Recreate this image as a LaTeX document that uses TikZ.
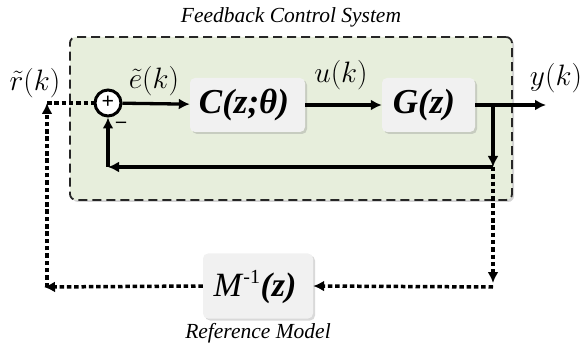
\RequirePackage{fix-cm}
\documentclass[tikz,border=0pt]{standalone}
\usepackage{fontspec}
\setmainfont{Liberation Serif}
\usetikzlibrary{arrows.meta,shadows}
\definecolor{fcsgreen}{HTML}{E7EEDC}
\definecolor{boxgray}{HTML}{F1F1F1}
\tikzset{
  fcsframe/.style={draw=black!85, line width=1.8pt, dash pattern=on 9pt off 5pt, rounded corners=6pt, fill=fcsgreen,
    drop shadow={shadow xshift=2pt, shadow yshift=-2pt, opacity=0.35, fill=black!50}},
  blockbox/.style={fill=boxgray, rounded corners=5pt, inner sep=0pt,
    drop shadow={shadow xshift=2pt, shadow yshift=-2pt, opacity=0.3, fill=black!50}},
  blockfont/.style={font=\fontsize{35}{38}\selectfont\bfseries\itshape},
  sumnode/.style={circle, draw=black, line width=3pt, fill=white, minimum size=26pt, inner sep=0pt},
  arr/.style={line width=3.3pt, -{Latex[length=11pt,width=11pt]}},
  darr/.style={line width=3.5pt, dash pattern=on 4.5pt off 2.8pt, -{Latex[length=11pt,width=11pt]}},
  dline/.style={line width=3.5pt, dash pattern=on 4.5pt off 2.8pt},
  siglabel/.style={font=\fontsize{29.5}{34}\selectfont, inner sep=0pt},
  caption/.style={font=\fontsize{21.5}{24}\selectfont\itshape}
}
\begin{document}
\begin{tikzpicture}[x=1pt,y=-1pt]
\useasboundingbox (0,0) rectangle (587,350);
% container
\node[fcsframe, minimum width=442pt, minimum height=163pt] (fcs) at (291,118.5) {};
\node[caption] (title) at (291,17) {Feedback Control System};
% blocks
\node[blockbox, minimum width=115pt, minimum height=54pt] (C) at (247.5,105) {};
\node[blockbox, minimum width=93pt, minimum height=54pt] (G) at (428.5,105) {};
\node[blockbox, minimum width=110pt, minimum height=65pt] (M) at (258,286) {};
\node[blockfont] (Ct) at (244,105) {C(z;θ)};
\node[blockfont] (Gt) at (424,105) {G(z)};
\node[font=\fontsize{34}{38}\selectfont] (Mt) at (255,287)
  {\textit{M}\textsuperscript{\fontsize{20}{20}\selectfont -1}\textbf{\textit{(z)}}};
\node[caption] (refm) at (258,333) {Reference Model};
% signal labels
\node[siglabel] (rl) at (35,83) {$\tilde{r}(k)$};
\node[siglabel] (el) at (154,81) {$\tilde{e}(k)$};
\node[siglabel] (ul) at (341,75) {$u(k)$};
\node[siglabel] (yl) at (556,78) {$y(k)$};
% summing junction
\node[sumnode] (sum) at (108,103) {};
\node[font=\fontsize{22}{22}\selectfont\bfseries] (plus) at (108,102) {+};
\node[font=\fontsize{20}{20}\selectfont\bfseries] (minus) at (121,125) {–};
% coordinates
\coordinate (br) at (493,105);
\coordinate (yend) at (546,105);
\coordinate (fbk) at (493,167);
\coordinate (fbl) at (108,167);
\coordinate (rbt) at (493,283);
\coordinate (rb) at (493,287);
\coordinate (lb) at (44,287);
\coordinate (lbv) at (47,287);
\coordinate (lt) at (47,103);
% solid connectors
\draw[arr] (sum) -- (C);
\draw[arr] (C) -- (G);
\draw[arr] (G.east) -- (yend);
\draw[arr] (br) -- (fbk);
\draw[arr] (fbk) -- (fbl);
\draw[arr] (fbl) -- (sum.south);
% dashed connectors
\draw[darr] (fbk) -- (rbt);
\draw[darr] (rb) -- (M.east);
\draw[darr] (M.west) -- (lb);
\draw[darr] (lbv) -- (lt);
\draw[dline] (lt) -- (sum.west);
\end{tikzpicture}
\end{document}
